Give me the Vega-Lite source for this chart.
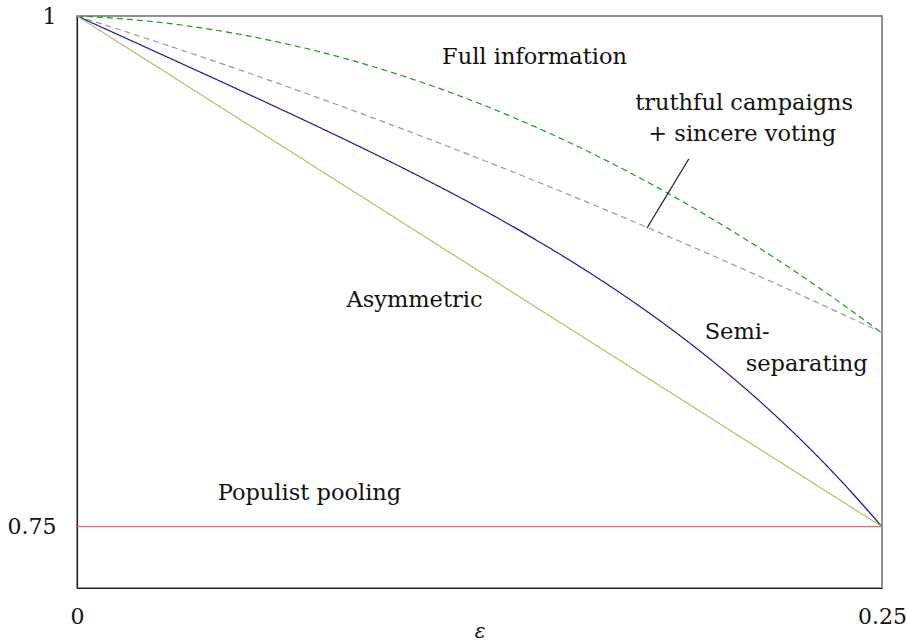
{
  "$schema": "https://vega.github.io/schema/vega-lite/v6.json",
  "autosize": "none",
  "padding": {"left": 77, "top": 16, "right": 25, "bottom": 53},
  "width": 805,
  "height": 572,
  "background": "white",
  "config": {
    "view": {"stroke": "#6e6e6e", "strokeWidth": 1.5},
    "font": "DejaVu Serif"
  },
  "datasets": {
    "curves": [
      {"series": "full", "eps": 0, "v": 1},
      {"series": "full", "eps": 0.0125, "v": 0.99884},
      {"series": "full", "eps": 0.025, "v": 0.99699},
      {"series": "full", "eps": 0.0375, "v": 0.99444},
      {"series": "full", "eps": 0.05, "v": 0.99119},
      {"series": "full", "eps": 0.0625, "v": 0.98725},
      {"series": "full", "eps": 0.075, "v": 0.98262},
      {"series": "full", "eps": 0.0875, "v": 0.97729},
      {"series": "full", "eps": 0.1, "v": 0.97127},
      {"series": "full", "eps": 0.1125, "v": 0.96455},
      {"series": "full", "eps": 0.125, "v": 0.95714},
      {"series": "full", "eps": 0.1375, "v": 0.94903},
      {"series": "full", "eps": 0.15, "v": 0.94023},
      {"series": "full", "eps": 0.1625, "v": 0.93074},
      {"series": "full", "eps": 0.175, "v": 0.92055},
      {"series": "full", "eps": 0.1875, "v": 0.90966},
      {"series": "full", "eps": 0.2, "v": 0.89808},
      {"series": "full", "eps": 0.2125, "v": 0.8858},
      {"series": "full", "eps": 0.225, "v": 0.87284},
      {"series": "full", "eps": 0.2375, "v": 0.85917},
      {"series": "full", "eps": 0.25, "v": 0.84481},
      {"series": "truthful", "eps": 0, "v": 1},
      {"series": "truthful", "eps": 0.025, "v": 0.98725},
      {"series": "truthful", "eps": 0.05, "v": 0.97389},
      {"series": "truthful", "eps": 0.075, "v": 0.95992},
      {"series": "truthful", "eps": 0.1, "v": 0.94534},
      {"series": "truthful", "eps": 0.125, "v": 0.93015},
      {"series": "truthful", "eps": 0.15, "v": 0.91434},
      {"series": "truthful", "eps": 0.175, "v": 0.89793},
      {"series": "truthful", "eps": 0.2, "v": 0.8809},
      {"series": "truthful", "eps": 0.225, "v": 0.86326},
      {"series": "truthful", "eps": 0.25, "v": 0.84501},
      {"series": "semi", "eps": 0, "v": 1},
      {"series": "semi", "eps": 0.0125, "v": 0.99104},
      {"series": "semi", "eps": 0.025, "v": 0.98208},
      {"series": "semi", "eps": 0.0375, "v": 0.9731},
      {"series": "semi", "eps": 0.05, "v": 0.96407},
      {"series": "semi", "eps": 0.0625, "v": 0.95495},
      {"series": "semi", "eps": 0.075, "v": 0.9457},
      {"series": "semi", "eps": 0.0875, "v": 0.93626},
      {"series": "semi", "eps": 0.1, "v": 0.92655},
      {"series": "semi", "eps": 0.1125, "v": 0.91651},
      {"series": "semi", "eps": 0.125, "v": 0.90603},
      {"series": "semi", "eps": 0.1375, "v": 0.89502},
      {"series": "semi", "eps": 0.15, "v": 0.88336},
      {"series": "semi", "eps": 0.1625, "v": 0.87094},
      {"series": "semi", "eps": 0.175, "v": 0.85762},
      {"series": "semi", "eps": 0.1875, "v": 0.84325},
      {"series": "semi", "eps": 0.2, "v": 0.82768},
      {"series": "semi", "eps": 0.2125, "v": 0.81076},
      {"series": "semi", "eps": 0.225, "v": 0.79229},
      {"series": "semi", "eps": 0.2375, "v": 0.7721},
      {"series": "semi", "eps": 0.25, "v": 0.75},
      {"series": "asym", "eps": 0, "v": 1},
      {"series": "asym", "eps": 0.25, "v": 0.75},
      {"series": "pool", "eps": 0, "v": 0.75},
      {"series": "pool", "eps": 0.25, "v": 0.75},
      {"series": "pointer", "eps": 0.177, "v": 0.8962},
      {"series": "pointer", "eps": 0.19, "v": 0.93}
    ],
    "labels": [
      {"label": "Full information", "eps": 0.1421, "v": 0.9799},
      {"label": "truthful campaigns", "eps": 0.2072, "v": 0.9576},
      {"label": "+ sincere voting", "eps": 0.2066, "v": 0.9421},
      {"label": "Asymmetric", "eps": 0.1048, "v": 0.8609},
      {"label": "Populist pooling", "eps": 0.0722, "v": 0.7663},
      {"label": "Semi-", "eps": 0.205, "v": 0.8451},
      {"label": "separating", "eps": 0.2266, "v": 0.8296}
    ]
  },
  "layer": [
    {
      "data": {"name": "curves"},
      "mark": {"type": "line", "strokeWidth": 1.2, "clip": true, "interpolate": "monotone"},
      "encoding": {
        "x": {
          "field": "eps", "type": "quantitative",
          "scale": {"domain": [0, 0.25], "nice": false, "zero": false},
          "axis": {
            "values": [0, 0.25], "format": "~g", "ticks": false, "grid": false,
            "domainColor": "#222", "domainWidth": 1.2,
            "labelFontSize": 22, "labelColor": "#111", "labelPadding": 18, "labelFlush": false,
            "labelFont": "DejaVu Serif",
            "title": "ε", "titleFontSize": 20, "titleFontStyle": "italic", "titleFontWeight": "normal",
            "titleColor": "#111", "titleBaseline": "middle", "titleY": 43,
            "titleFont": "DejaVu Serif"
          }
        },
        "y": {
          "field": "v", "type": "quantitative",
          "scale": {"domain": [0.72, 1], "nice": false, "zero": false},
          "axis": {
            "values": [0.75, 1], "format": "~g", "ticks": false, "grid": false,
            "domainColor": "#222", "domainWidth": 1.2,
            "labelFontSize": 22, "labelColor": "#111", "labelPadding": 21, "labelFlush": false,
            "labelFont": "DejaVu Serif",
            "title": null
          }
        },
        "detail": {"field": "series"},
        "color": {
          "field": "series", "type": "nominal", "legend": null,
          "scale": {
            "domain": ["full", "truthful", "semi", "asym", "pool", "pointer"],
            "range": ["#1c9a1c", "#9a9a9a", "#1a1aa0", "#c9b660", "#e86a6a", "#222222"]
          }
        },
        "strokeDash": {
          "field": "series", "type": "nominal", "legend": null,
          "scale": {
            "domain": ["full", "truthful", "semi", "asym", "pool", "pointer"],
            "range": [[6, 4], [6, 4], [1, 0], [1, 0], [1, 0], [1, 0]]
          }
        }
      }
    },
    {
      "data": {"name": "labels"},
      "mark": {"type": "text", "fontSize": 22.5, "font": "DejaVu Serif", "align": "center", "baseline": "middle", "color": "#111"},
      "encoding": {
        "x": {"field": "eps", "type": "quantitative"},
        "y": {"field": "v", "type": "quantitative"},
        "text": {"field": "label"}
      }
    }
  ]
}
